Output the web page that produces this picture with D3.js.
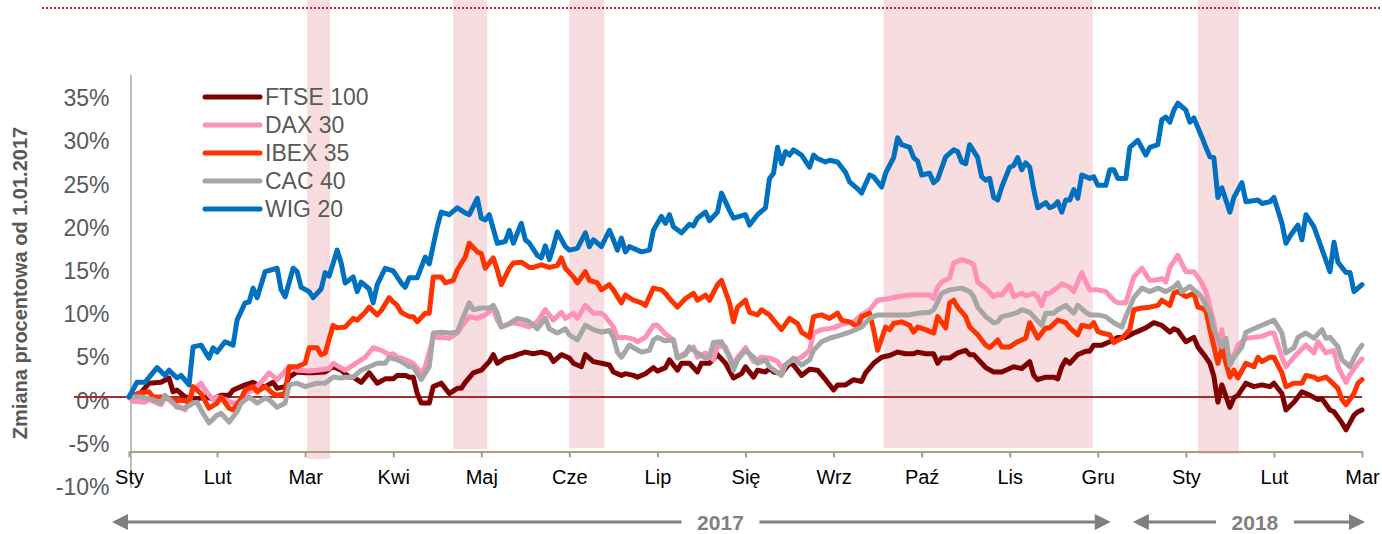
<!DOCTYPE html>
<html><head><meta charset="utf-8">
<script src="https://cdn.jsdelivr.net/npm/d3@7"></script>
<style>
html,body{margin:0;padding:0;background:#fff;}
svg{display:block;}
text{font-family:"Liberation Sans",Arial,sans-serif;}
</style></head><body>
<svg id="chart" width="1382" height="534"></svg>
<script>
// ---- data ----
const monthLabels = ["Sty","Lut","Mar","Kwi","Maj","Cze","Lip","Się","Wrz","Paź","Lis","Gru","Sty","Lut","Mar"];
const monthTickDays = [0,22,44,66,88,110,132,154,176,198,220,242,264,286,308];
const yTicks = [-10,-5,0,5,10,15,20,25,30,35];
const seriesNames = ["FTSE 100","DAX 30","IBEX 35","CAC 40","WIG 20"];
const yAxisTitle = "Zmiana procentowa od 1.01.2017";

// [trading day, % change since 1.01.2017]
const ftse100 = [[0,0],[3,0.5],[5,1.6],[8,1.7],[10,2.2],[11,0.6],[12,0.8],[14,0],[17,-0.2],[19,0],[21,-0.2],[23,0.2],[25,0.2],[26,0.8],[29,1.4],[31,1.7],[32,1.4],[34,1.2],[36,1.7],[37,1.0],[39,1.2],[40,2.3],[42,2.9],[44,2.8],[46,2.8],[49,2.9],[51,3.5],[53,3.1],[55,2.3],[56,2.3],[58,1.7],[60,2.8],[62,1.6],[64,2.1],[66,2.1],[67,2.5],[69,2.5],[70,2.3],[71,2.3],[72,0.4],[73,-0.7],[75,-0.7],[76,1.2],[78,1.6],[80,0.4],[82,1.0],[83,1.0],[84,1.7],[86,2.8],[88,3.1],[90,4.1],[91,4.9],[92,3.9],[94,4.5],[96,4.7],[97,4.9],[99,5.2],[101,5.0],[103,5.2],[105,4.9],[106,4.1],[108,4.9],[110,4.5],[111,3.9],[113,3.5],[114,4.9],[116,4.1],[118,3.9],[120,3.7],[121,2.9],[123,2.5],[124,2.7],[126,2.5],[127,2.3],[129,2.7],[131,3.4],[132,3.0],[134,3.4],[135,4.3],[137,3.1],[138,3.9],[140,3.9],[142,2.9],[143,3.9],[145,3.9],[147,4.9],[149,3.9],[151,2.2],[153,2.7],[154,3.5],[156,2.3],[157,3.1],[159,2.9],[160,3.3],[161,2.9],[163,2.7],[165,3.9],[166,3.7],[168,2.5],[170,3.2],[172,3.1],[174,2.0],[176,0.8],[177,1.4],[179,1.4],[181,2.0],[183,1.8],[184,2.8],[186,3.9],[188,4.6],[190,4.8],[192,5.2],[194,5.0],[196,5.0],[197,5.2],[199,5.0],[201,5.0],[202,3.9],[203,4.5],[205,4.5],[207,5.1],[209,5.4],[210,4.9],[211,4.9],[213,3.9],[214,3.4],[216,2.9],[218,2.9],[220,3.3],[221,3.5],[223,3.3],[225,4.1],[226,2.5],[227,2.0],[229,2.3],[231,2.3],[232,2.1],[233,3.5],[234,4.3],[235,3.9],[237,4.9],[239,5.3],[240,5.3],[241,6.0],[243,6.0],[245,6.4],[247,6.9],[249,6.9],[251,7.4],[252,7.6],[254,8.0],[256,8.6],[258,8.3],[260,7.5],[261,7.9],[262,7.7],[264,6.4],[266,6.9],[267,5.8],[269,4.6],[270,3.9],[271,2.4],[272,-0.6],[273,1.4],[275,-1.2],[276,-0.1],[277,0.2],[279,1.6],[281,1.2],[283,1.4],[285,1.2],[286,1.6],[288,0.4],[289,-1.5],[291,-0.6],[293,0.6],[295,0.2],[297,-0.3],[298,-0.2],[300,-1.5],[301,-1.7],[303,-3.0],[304,-3.8],[306,-2.1],[307,-1.7],[308,-1.5]];

const dax30 = [[0,0],[1,-0.5],[4,-0.6],[5,-0.3],[8,-0.9],[9,0],[11,-0.7],[13,-1.2],[14,-1.5],[16,0.8],[18,1.6],[19,0.8],[21,-0.3],[22,0],[24,-0.3],[26,-0.7],[28,-0.7],[29,0.4],[31,0.8],[33,1.7],[35,2.8],[37,2.0],[40,3.5],[42,3.1],[45,3.0],[47,3.1],[50,3.3],[51,3.9],[54,3.1],[56,3.7],[59,4.6],[61,5.7],[63,5.4],[65,4.9],[66,5.0],[67,4.6],[68,4.5],[70,4.1],[71,3.9],[73,2.8],[74,3.5],[76,6.9],[78,6.9],[80,6.8],[82,7.4],[83,8.1],[85,9.3],[87,9.1],[89,9.5],[91,10.3],[92,8.9],[93,8.1],[96,8.6],[98,8.4],[100,8.1],[102,8.7],[104,10.1],[106,8.9],[108,9.8],[109,9.1],[111,9.7],[112,9.1],[114,10.6],[116,9.7],[118,9.7],[119,9.3],[121,8.1],[122,6.9],[124,6.9],[126,6.7],[127,6.4],[129,6.9],[131,8.3],[132,8.3],[134,7.3],[136,6.6],[137,4.6],[139,5.1],[141,5.8],[142,4.6],[144,5.1],[146,4.3],[147,6.0],[149,5.8],[151,3.7],[152,4.6],[154,5.7],[156,4.1],[158,4.6],[160,4.5],[162,4.1],[163,3.4],[165,4.1],[166,4.3],[168,4.6],[170,5.4],[171,7.4],[173,7.8],[176,8.0],[178,8.4],[181,8.7],[183,9.5],[185,10.1],[187,11.2],[190,11.4],[192,11.6],[195,11.8],[197,11.8],[200,11.8],[201,11.4],[202,12.7],[203,13.3],[205,13.8],[206,15.5],[208,15.9],[210,15.6],[211,15.3],[212,13.3],[214,12.6],[216,11.6],[217,11.9],[218,11.8],[220,13.0],[221,11.6],[223,12.0],[224,11.7],[226,12.0],[227,11.6],[228,10.6],[229,12.0],[230,12.0],[232,12.7],[233,13.1],[235,12.7],[236,12.2],[238,14.4],[239,13.3],[240,12.4],[242,12.4],[244,12.2],[246,11.2],[247,10.9],[249,10.9],[251,13.9],[253,14.9],[255,13.5],[256,13.5],[258,13.7],[259,13.3],[260,15.0],[262,16.4],[264,14.5],[266,14.5],[267,13.9],[268,13.2],[269,12.2],[270,10.4],[271,8.6],[272,5.8],[273,7.8],[274,4.3],[276,4.8],[277,6.0],[279,6.8],[281,6.9],[283,7.0],[285,7.4],[286,7.4],[288,4.6],[289,3.5],[291,4.6],[292,5.1],[294,6.0],[296,5.1],[297,6.4],[299,5.1],[301,5.4],[302,3.5],[304,1.7],[305,2.6],[307,3.9],[308,4.4]];

const ibex35 = [[0,0],[3,0.5],[5,0.6],[6,0],[9,0],[11,-0.4],[14,-0.4],[15,-0.7],[16,1.2],[18,0.4],[20,-1.3],[22,-0.7],[23,0],[25,-1.3],[26,-1.5],[28,-0.2],[29,0.8],[31,1.2],[32,0.6],[34,1.2],[36,0.4],[37,0.2],[39,0.4],[40,3.5],[42,3.5],[44,3.9],[45,5.7],[47,5.7],[48,4.9],[49,5.1],[51,8.3],[52,8.0],[54,8.1],[56,9.1],[57,8.9],[59,9.8],[60,10.4],[62,9.5],[63,10.0],[65,11.5],[66,11.0],[67,10.6],[68,9.8],[70,9.3],[71,9.3],[72,8.7],[74,9.7],[75,9.7],[76,13.9],[78,13.9],[79,13.2],[81,13.5],[82,14.7],[84,16.2],[85,17.8],[87,16.8],[88,16.6],[89,14.9],[91,16.1],[92,14.7],[93,13.0],[95,14.9],[96,15.5],[98,15.6],[100,15.0],[101,15.0],[103,15.3],[105,15.0],[107,15.2],[108,16.1],[109,14.9],[111,13.9],[112,13.2],[114,14.5],[115,13.5],[117,13.2],[118,12.4],[120,13.0],[121,12.4],[123,10.9],[124,11.8],[126,11.2],[128,10.9],[129,10.6],[131,12.6],[133,12.4],[134,12.0],[135,11.4],[137,10.4],[139,11.4],[141,12.0],[142,11.2],[144,11.8],[145,11.2],[147,13.0],[148,13.5],[150,10.9],[151,8.7],[152,10.4],[154,11.2],[155,9.8],[157,9.5],[158,10.1],[160,9.5],[161,8.9],[163,7.8],[165,9.1],[167,8.5],[168,7.5],[170,6.9],[171,9.3],[173,9.5],[175,9.1],[177,9.7],[178,8.9],[180,8.7],[182,8.1],[183,9.3],[185,9.7],[186,7.8],[187,5.4],[189,8.1],[190,7.8],[191,8.5],[193,8.7],[195,8.3],[196,7.5],[197,8.1],[199,7.8],[200,7.6],[201,7.4],[202,9.3],[204,8.0],[205,10.9],[206,11.2],[207,10.4],[209,9.3],[210,8.1],[212,7.2],[214,6.0],[215,5.7],[217,6.6],[218,5.8],[220,5.8],[222,6.4],[224,6.8],[225,8.6],[227,6.8],[229,8.0],[230,8.0],[232,8.9],[234,8.6],[235,8.0],[237,7.2],[238,8.3],[240,8.1],[241,8.6],[242,7.6],[243,7.4],[245,7.2],[246,6.3],[248,6.8],[250,7.8],[251,10.1],[253,10.3],[255,10.4],[257,10.6],[258,11.2],[260,10.6],[261,12.0],[262,12.2],[264,11.6],[266,12.0],[267,10.4],[268,10.3],[269,10.0],[270,7.8],[272,3.9],[273,5.7],[275,2.3],[276,3.1],[277,2.2],[279,3.9],[281,3.5],[282,4.6],[283,4.1],[285,4.6],[286,4.6],[288,2.8],[289,1.2],[291,1.6],[293,1.6],[294,2.5],[296,2.3],[297,2.0],[299,2.3],[300,1.9],[302,1.0],[303,-0.3],[304,-0.9],[306,0.4],[307,1.6],[308,2.0]];

const cac40 = [[0,0],[3,0],[6,-0.3],[8,-0.7],[9,0.2],[11,-0.7],[12,-1.2],[14,-1.3],[16,-0.7],[17,-0.6],[18,-1.5],[20,-3.0],[22,-2.1],[23,-1.9],[25,-2.9],[27,-1.7],[28,-0.7],[30,0],[32,-0.7],[34,-0.1],[35,-0.3],[37,-1.2],[39,-0.7],[40,1.4],[42,1.6],[44,1.2],[47,1.6],[49,1.6],[51,2.3],[53,2.2],[54,2.3],[56,2.3],[58,3.1],[60,3.5],[62,3.9],[64,3.9],[65,4.6],[67,4.3],[68,4.1],[70,3.5],[71,3.5],[73,2.0],[75,3.5],[76,7.4],[78,7.5],[80,7.4],[82,7.5],[83,8.7],[85,10.9],[86,10.1],[88,10.3],[90,10.3],[91,10.6],[92,9.7],[93,8.1],[95,8.5],[97,9.1],[99,8.9],[100,8.7],[102,7.9],[104,9.1],[105,7.9],[107,7.4],[109,7.9],[110,7.2],[112,6.6],[114,8.3],[116,7.8],[118,7.5],[120,7.7],[121,6.9],[122,5.2],[123,4.6],[125,6.0],[126,5.7],[128,5.2],[130,5.4],[131,6.6],[132,6.9],[134,6.5],[136,6.6],[137,4.5],[139,4.9],[140,5.8],[142,5.1],[144,4.5],[145,4.7],[146,6.3],[148,6.4],[150,4.6],[151,3.1],[152,4.3],[154,5.4],[156,4.6],[157,3.9],[159,4.3],[160,3.5],[163,2.5],[164,3.7],[166,4.5],[168,3.7],[170,4.3],[171,5.4],[173,6.4],[175,6.8],[178,7.2],[180,7.5],[183,8.1],[185,9.1],[187,9.5],[190,9.5],[192,9.5],[195,9.5],[197,9.7],[200,9.8],[201,10.1],[202,11.0],[203,12.0],[205,12.4],[208,12.6],[210,12.2],[211,11.6],[212,10.4],[214,9.3],[216,8.6],[217,8.7],[218,9.3],[220,9.5],[222,9.8],[223,10.1],[225,9.8],[226,9.3],[228,8.3],[229,9.7],[231,9.7],[232,10.1],[234,10.6],[236,9.7],[237,10.6],[239,9.8],[240,9.5],[242,9.5],[244,9.3],[246,8.6],[248,8.1],[249,9.3],[251,11.5],[253,12.6],[255,12.2],[257,12.6],[259,12.2],[261,12.7],[262,13.2],[263,12.2],[265,12.8],[267,12.0],[268,11.5],[270,9.8],[271,7.8],[273,5.8],[274,6.8],[275,3.7],[276,4.6],[278,5.8],[279,7.5],[282,8.1],[283,8.3],[285,8.7],[286,8.9],[288,7.4],[289,5.1],[291,5.7],[292,6.9],[294,7.4],[296,6.8],[298,7.8],[299,6.8],[300,6.9],[302,5.8],[303,4.3],[305,3.5],[306,4.5],[307,5.4],[308,6.0]];

const wig20 = [[0,0],[2,1.7],[4,1.7],[7,3.4],[9,2.5],[10,3.1],[12,2.2],[13,2.5],[15,1.4],[16,5.8],[18,6.0],[20,4.5],[21,5.7],[22,5.2],[24,6.4],[26,6.0],[27,8.9],[29,10.9],[30,11.0],[31,12.6],[32,11.5],[34,14.5],[37,14.9],[38,12.4],[39,11.6],[41,14.9],[42,14.5],[43,12.7],[45,12.2],[46,11.5],[48,12.5],[49,14.4],[50,14.0],[52,17.0],[53,15.5],[54,13.2],[56,13.9],[57,12.2],[58,13.3],[60,12.5],[61,10.9],[62,13.0],[64,14.9],[66,14.6],[68,13.2],[69,12.7],[70,13.8],[72,13.8],[73,15.0],[74,16.2],[75,15.4],[77,19.7],[78,21.4],[80,21.1],[82,21.9],[84,21.3],[85,21.1],[87,23.0],[88,20.7],[89,20.5],[90,21.1],[92,17.8],[94,18.0],[95,19.3],[96,17.8],[98,20.1],[99,18.2],[100,17.8],[102,16.4],[103,16.1],[104,17.5],[105,15.9],[106,17.4],[107,19.1],[109,17.4],[110,17.0],[112,17.2],[114,19.0],[115,17.4],[116,18.2],[118,17.4],[120,19.3],[121,18.2],[122,17.0],[123,18.4],[124,16.8],[125,17.4],[128,16.8],[130,17.0],[131,19.3],[132,20.1],[133,20.9],[134,20.1],[135,21.1],[136,19.7],[138,19.0],[140,20.0],[141,19.8],[142,20.7],[144,21.4],[145,20.4],[147,21.4],[148,23.6],[150,21.6],[151,20.7],[154,21.1],[155,19.9],[157,21.1],[159,21.9],[160,25.3],[161,25.9],[162,28.9],[163,27.0],[164,28.4],[165,28.0],[166,28.6],[168,28.0],[170,26.6],[171,28.0],[172,27.6],[174,27.2],[175,27.4],[177,27.2],[178,26.6],[179,26.0],[180,24.9],[182,24.1],[183,23.6],[185,25.7],[186,25.5],[188,24.3],[189,25.9],[191,27.7],[192,30.0],[193,29.2],[195,28.9],[196,27.7],[197,27.3],[198,25.7],[200,25.9],[201,24.8],[202,25.2],[204,27.8],[206,28.6],[207,28.4],[208,27.2],[209,27.0],[210,29.2],[212,27.7],[213,25.5],[214,25.1],[215,25.3],[216,23.1],[217,22.8],[218,24.3],[220,26.6],[221,26.8],[222,27.7],[223,26.3],[224,27.1],[225,26.6],[226,24.0],[227,21.9],[229,22.5],[230,21.9],[231,22.1],[232,22.6],[233,21.4],[234,22.8],[235,22.8],[236,24.0],[237,23.0],[238,25.7],[240,25.3],[241,25.5],[242,24.5],[244,24.5],[245,26.3],[246,26.3],[247,25.3],[249,25.3],[250,28.9],[252,29.7],[254,28.0],[255,28.9],[257,29.2],[258,32.1],[259,32.4],[260,31.8],[261,33.2],[262,34.0],[264,33.2],[265,31.8],[266,32.3],[267,31.2],[268,30.1],[269,28.9],[270,27.8],[271,27.7],[272,23.1],[273,24.2],[275,21.4],[276,23.1],[278,24.8],[279,22.6],[282,22.8],[283,22.4],[285,22.6],[286,23.1],[288,20.1],[289,17.8],[290,18.6],[292,19.9],[293,18.2],[294,21.1],[296,19.7],[297,18.4],[300,14.5],[301,17.9],[302,15.6],[304,14.4],[305,14.4],[306,12.2],[307,12.6],[308,13.0]];

// shaded periods [start day, end day]
const highlightPeriods = [[44.5,50.25],[81,89.5],[110,118.75],[188.5,240.75],[267,277.25]];
const yearLabels = ["2017","2018"];
const yearSpans = [[-4.25,245.25],[250.75,308.75]];
const yearLabelDays = [147.75,281.25];

// ---- styles ----
const seriesData = [ftse100, dax30, ibex35, cac40, wig20];
const seriesColors = ["#7f0000","#ff91b8","#ff3300","#a6a6a6","#0070c0"];
const bandBottomPx = [459, 449, 448, 448, 454];

const svg = d3.select("#chart");
const x = d3.scaleLinear().domain([0,308]).range([129,1362]);
const y = d3.scaleLinear().domain([-10,35]).range([483.4,94.6]);

// shaded bands
svg.append("g").selectAll("rect").data(highlightPeriods).join("rect")
  .attr("x", d => x(d[0])).attr("width", d => x(d[1]) - x(d[0]))
  .attr("y", 0).attr("height", (d,i) => bandBottomPx[i])
  .attr("fill", "#f7dde0");

// top dotted line
svg.append("line").attr("x1",42).attr("x2",1382).attr("y1",8).attr("y2",8)
  .attr("stroke","#c0282d").attr("stroke-width",2.2).attr("stroke-dasharray","2,2");

// y axis
const yAxis = svg.append("g").attr("transform","translate(131,0)")
  .call(d3.axisLeft(y).tickValues(yTicks).tickFormat(d => d + "%").tickSize(0).tickPadding(21.5));
yAxis.select(".domain").remove();
yAxis.selectAll("text").attr("font-size",23).attr("fill","#595959")
  .attr("font-family","Liberation Sans, Arial, sans-serif").attr("dy","0.48em");
svg.append("line").attr("x1",131).attr("x2",131).attr("y1",y(37.3)).attr("y2",y(-10.5))
  .attr("stroke","#bfbfbf").attr("stroke-width",2);

// y axis title
svg.append("text").attr("transform","translate(27,283) rotate(-90)")
  .attr("text-anchor","middle").attr("font-size",20).attr("font-weight","bold")
  .attr("fill","#595959").text(yAxisTitle);

// x axis
const xAxis = svg.append("g").attr("transform",`translate(0,${y(-6.3)})`)
  .call(d3.axisBottom(x).tickValues(monthTickDays).tickFormat((d,i) => monthLabels[i]).tickSizeInner(6).tickSizeOuter(0));
xAxis.select(".domain").attr("stroke","#a89e80").attr("stroke-width",2);
xAxis.selectAll(".tick line").attr("stroke","#a89e80").attr("stroke-width",2);
xAxis.selectAll("text").attr("font-size",20).attr("fill","#000")
  .attr("font-family","Liberation Sans, Arial, sans-serif").attr("y",33).attr("dy",0);

// zero line
svg.append("line").attr("x1",74).attr("x2",x(308)).attr("y1",y(0)).attr("y2",y(0))
  .attr("stroke","#a52a2a").attr("stroke-width",2);

// series
const line = d3.line().x(d => x(d[0])).y(d => y(d[1]));
svg.append("g").selectAll("path").data(seriesData).join("path")
  .attr("d", line).attr("fill","none")
  .attr("stroke",(d,i) => seriesColors[i]).attr("stroke-width",5)
  .attr("stroke-linejoin","round").attr("stroke-linecap","round");

// legend
const legend = svg.append("g").selectAll("g").data(seriesNames).join("g")
  .attr("transform",(d,i) => `translate(205,${97 + i*28})`);
legend.append("line").attr("x1",0).attr("x2",55).attr("y1",0).attr("y2",0)
  .attr("stroke",(d,i) => seriesColors[i]).attr("stroke-width",5).attr("stroke-linecap","round");
legend.append("text").attr("x",60).attr("y",8.3).attr("font-size",23).attr("fill","#595959").text(d => d);

// year arrows
const arrowY = 522, gapHalf = 39, head = 16, headH = 8, arrowCol = "#7f7f7f";
yearLabels.forEach((lab,i) => {
  const x0 = x(yearSpans[i][0]), x1 = x(yearSpans[i][1]), xc = x(yearLabelDays[i]);
  const g = svg.append("g");
  g.append("line").attr("x1",x0+head-1).attr("x2",xc-gapHalf).attr("y1",arrowY).attr("y2",arrowY)
    .attr("stroke",arrowCol).attr("stroke-width",3);
  g.append("line").attr("x1",xc+gapHalf).attr("x2",x1-head+1).attr("y1",arrowY).attr("y2",arrowY)
    .attr("stroke",arrowCol).attr("stroke-width",3);
  g.append("path").attr("d",`M${x0},${arrowY}L${x0+head},${arrowY-headH}L${x0+head},${arrowY+headH}Z`).attr("fill",arrowCol);
  g.append("path").attr("d",`M${x1},${arrowY}L${x1-head},${arrowY-headH}L${x1-head},${arrowY+headH}Z`).attr("fill",arrowCol);
  g.append("text").attr("x",xc).attr("y",arrowY+7.5).attr("text-anchor","middle")
    .attr("font-size",21).attr("font-weight","bold").attr("fill",arrowCol).text(lab);
});
</script>
</body></html>
